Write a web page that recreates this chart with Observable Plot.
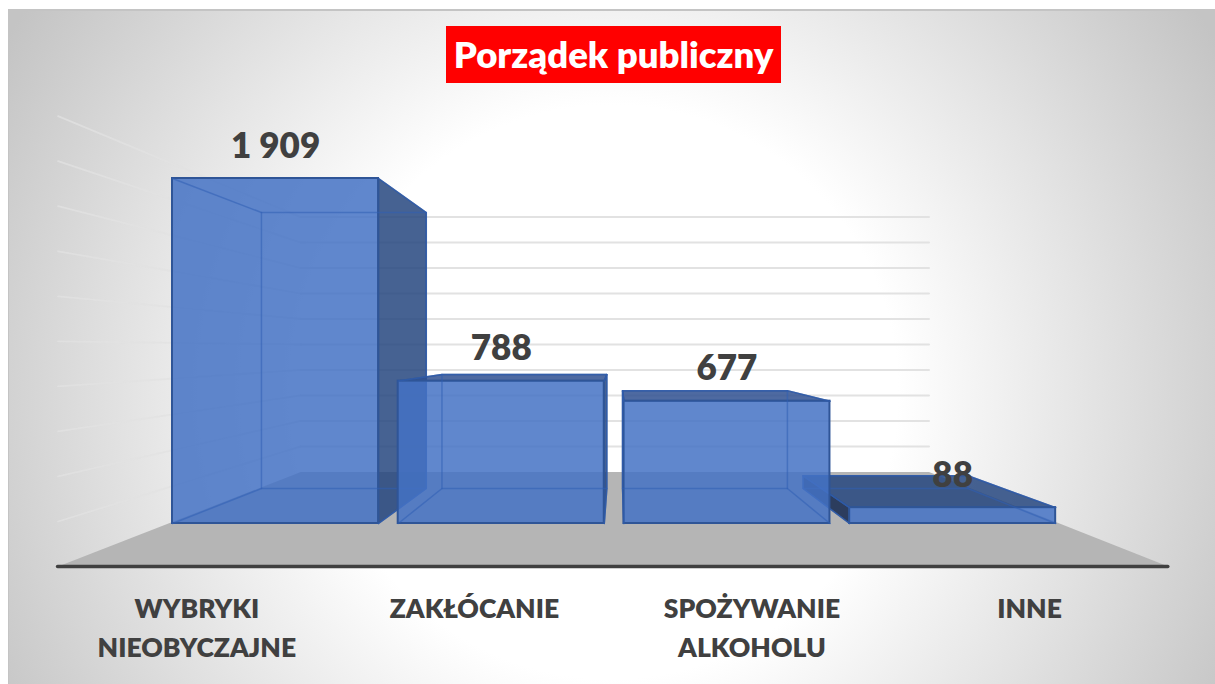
<!DOCTYPE html>
<html lang="pl">
<head>
<meta charset="utf-8">
<script src="https://cdn.jsdelivr.net/npm/d3@7"></script>
<script src="https://cdn.jsdelivr.net/npm/@observablehq/plot@0.6"></script>
<style>
  html, body { margin: 0; padding: 0; background: #fff; overflow: hidden; }
  #chart { position: relative; width: 1215px; height: 684px; font-family: Lato, sans-serif; }
  #bg { position: absolute; left: 8px; top: 9px; right: 0; bottom: 0;
        border-left: 1px solid #c4c4c4; border-top: 2px solid #c4c4c4; box-sizing: border-box;
        background: radial-gradient(circle 700px at 602px 381px, #fff 0, #fff 41%, #c4c4c4 100%); }
  #title { position: absolute; left: 446px; top: 26px; width: 335px; height: 57px; line-height: 57px;
           background: #f00; color: #fff; font-weight: 800; font-size: 36.5px; text-align: center; }
  svg { position: absolute; left: 0; top: 0; background: transparent !important; }
</style>
</head>
<body>
<div id="chart"><div id="bg"></div><div id="title">Porządek publiczny</div></div>
<script>
const categories = ["WYBRYKI\nNIEOBYCZAJNE", "ZAKŁÓCANIE", "SPOŻYWANIE\nALKOHOLU", "INNE"];
const values = [1909, 788, 677, 88];
const gridTicks = [200, 400, 600, 800, 1000, 1200, 1400, 1600, 1800, 2000];
const drawOrder = [0, 1, 3, 2];

// Category-slot units on x, chart values on y; k is the perspective depth factor.
const barWidth = 0.913, backK = 0.8, floorFrontK = 1.246, wallK = 0.705;
const VX = 1.97, VY = 968, floorLeft = -0.018, floorRight = 3.93;
const P = (u, v, k) => ({x: VX + k * (u - VX), y: VY + k * (v - VY)});
const fmt = d3.formatLocale({decimal: ",", thousands: " ", grouping: [3], currency: ["", ""]}).format(",");

const polygon = (id, pts) => pts.map(p => ({id, ...p}));
const edge = "#2f5597";

function barMarks(i) {
  const l = i, r = i + barWidth, t = values[i];
  const corner = (u, v, k) => P(u, v, k);
  const dark = [];
  if (VY > t) dark.push(polygon("top", [corner(l,t,1), corner(r,t,1), corner(r,t,backK), corner(l,t,backK)]));
  const rightFace = polygon("right", [corner(r,0,1), corner(r,t,1), corner(r,t,backK), corner(r,0,backK)]);
  const leftFace = polygon("left", [corner(l,0,1), corner(l,t,1), corner(l,t,backK), corner(l,0,backK)]);
  const faces = [];
  if (r < VX) faces.push({rows: rightFace, fill: "#26467f"});
  if (l > VX) faces.push({rows: leftFace, fill: i === 3 ? "#14284f" : "#26467f"});
  if (i !== 0) faces.push({rows: dark.flat(), fill: i === 3 ? "#26467f" : "#2f5090"});
  const inner = [
    [corner(l,0,1), corner(l,0,backK), corner(r,0,backK), corner(r,0,1)],
    [corner(l,t,1), corner(l,t,backK), corner(r,t,backK), corner(r,t,1)],
    [corner(l,0,backK), corner(l,t,backK)],
    [corner(r,0,backK), corner(r,t,backK)]
  ].flatMap((pts, j) => pts.map(p => ({id: j, ...p})));
  return [
    ...faces.map(f => Plot.line(f.rows, {x: "x", y: "y", z: "id", curve: "linear-closed",
      fill: f.fill, fillOpacity: 0.85, stroke: edge, strokeOpacity: 0.9, strokeWidth: 1.5})),
    Plot.rect([i], {x1: d => d, x2: d => d + barWidth, y1: 0, y2: d => values[d],
      fill: "#4472c4", fillOpacity: 0.85, stroke: edge, strokeWidth: 2}),
    Plot.line(inner, {x: "x", y: "y", z: "id", stroke: "#2f5fb5", strokeOpacity: 0.55, strokeWidth: 1.5})
  ];
}

const floorRows = [P(floorLeft,0,floorFrontK), P(floorRight,0,floorFrontK), P(floorRight,0,wallK), P(floorLeft,0,wallK)];
const sideRows = gridTicks.flatMap(v => [{tick: v, ...P(floorLeft,v,floorFrontK)}, {tick: v, ...P(floorLeft,v,wallK)}]);
const backRows = gridTicks.flatMap(v => [{tick: v, ...P(floorLeft,v,wallK)}, {tick: v, ...P(floorRight,v,wallK)}]);
const axisL = P(floorLeft,0,floorFrontK), axisR = P(floorRight,0,floorFrontK);
const slot = (axisR.x - axisL.x) / categories.length;

const chart = Plot.plot({
  width: 1215, height: 684,
  marginTop: 0, marginRight: 0, marginBottom: 0, marginLeft: 0,
  style: {background: "transparent", overflow: "visible"},
  x: {type: "linear", domain: [0, 4], range: [172, 1074.8], axis: null},
  y: {type: "linear", domain: [0, 1909], range: [523, 178], axis: null},
  marks: [
    Plot.line(sideRows, {x: "x", y: "y", z: "tick", stroke: "#e2e2e2", strokeOpacity: 0.75, strokeWidth: 1.8}),
    Plot.line(backRows, {x: "x", y: "y", z: "tick", stroke: "#e2e2e2", strokeWidth: 2}),
    Plot.line(floorRows, {x: "x", y: "y", curve: "linear-closed", fill: "#b5b5b5"}),
    ...drawOrder.flatMap(barMarks),
    Plot.ruleY([axisL.y], {x1: axisL.x, x2: axisR.x, stroke: "#404040", strokeWidth: 3.5, strokeLinecap: "round"}),
    Plot.text(values, {x: (d, i) => i + barWidth / 2, y: d => d, text: d => fmt(d), dy: -32,
      fontSize: 35, fontWeight: 800, fill: "#404040", fontFamily: "Lato, sans-serif"}),
    Plot.text(categories, {x: (d, i) => axisL.x + slot * (i + 0.5), y: axisL.y, text: d => d, dy: 24,
      lineAnchor: "top", lineHeight: 1.47, fontSize: 26.5, fontWeight: 800, fill: "#404040", fontFamily: "Lato, sans-serif"})
  ]
});
document.getElementById("chart").insertBefore(chart, document.getElementById("title"));
</script>
</body>
</html>
